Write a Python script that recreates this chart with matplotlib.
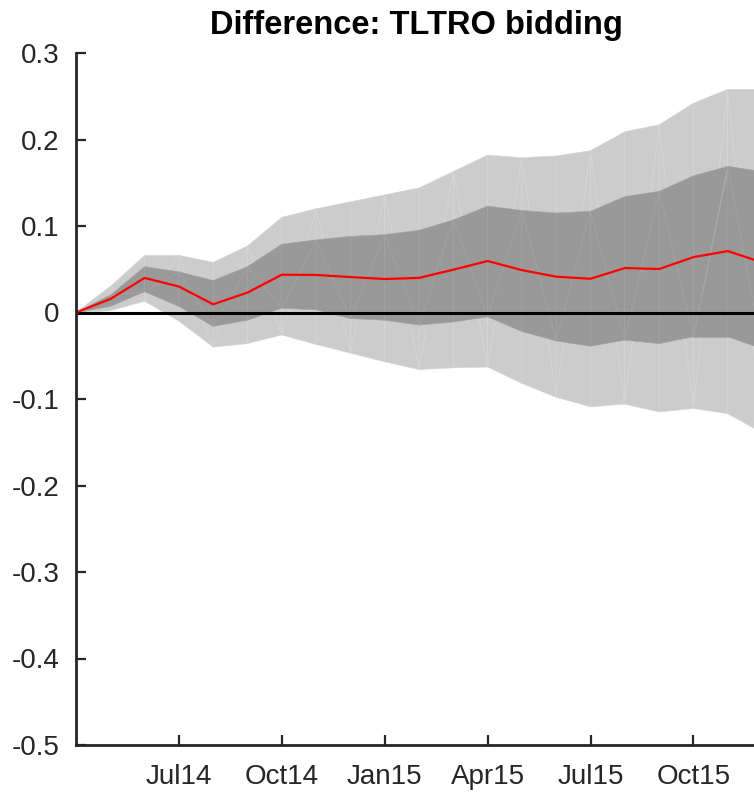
import matplotlib
matplotlib.use("Agg")
import matplotlib.pyplot as plt
from matplotlib.patches import Polygon
import numpy as np

plt.rcParams['font.family'] = ['Liberation Sans', 'DejaVu Sans']

# Monthly observations, Apr14 .. Dec15
months = ["Apr14", "May14", "Jun14", "Jul14", "Aug14", "Sep14", "Oct14",
          "Nov14", "Dec14", "Jan15", "Feb15", "Mar15", "Apr15", "May15",
          "Jun15", "Jul15", "Aug15", "Sep15", "Oct15", "Nov15", "Dec15"]

median = [0.0, 0.0156, 0.040, 0.030, 0.0095, 0.023, 0.0437, 0.0434, 0.041,
          0.0387, 0.040, 0.0495, 0.0595, 0.049, 0.0414, 0.039, 0.0514,
          0.0503, 0.064, 0.071, 0.058]

outer_hi = [0.0, 0.030, 0.066, 0.066, 0.058, 0.077, 0.110, 0.120, 0.128,
            0.136, 0.144, 0.163, 0.182, 0.179, 0.181, 0.187, 0.209, 0.217,
            0.242, 0.258, 0.258]
inner_hi = [0.0, 0.020, 0.053, 0.047, 0.037, 0.053, 0.079, 0.084, 0.088,
            0.090, 0.095, 0.107, 0.123, 0.118, 0.115, 0.117, 0.134, 0.140,
            0.158, 0.169, 0.163]
inner_lo = [0.0, 0.007, 0.024, 0.007, -0.016, -0.009, 0.005, 0.003, -0.007,
            -0.009, -0.0145, -0.011, -0.005, -0.022, -0.033, -0.039, -0.032,
            -0.036, -0.028, -0.028, -0.042]
outer_lo = [0.0, 0.002, 0.013, -0.010, -0.040, -0.036, -0.026, -0.037,
            -0.047, -0.057, -0.066, -0.064, -0.063, -0.082, -0.098, -0.109,
            -0.106, -0.115, -0.111, -0.117, -0.139]

tick_months = ["Jul14", "Oct14", "Jan15", "Apr15", "Jul15", "Oct15"]
y_ticks = [0.3, 0.2, 0.1, 0, -0.1, -0.2, -0.3, -0.4, -0.5]

x = np.arange(len(months))

W, H = 754, 795
fig = plt.figure(figsize=(W / 100, H / 100), dpi=100)
ax = fig.add_axes([76 / W, 1 - 745 / H, (757 - 76) / W, (745 - 53) / H])


def band(ax, lo, hi, face, edge, z):
    """Fill a band as a triangle strip with faint seams, like a patch render."""
    lo = np.asarray(lo)
    hi = np.asarray(hi)
    for i in range(len(x) - 1):
        a, b = x[i], x[i + 1]
        if i % 2 == 0:
            tris = [[(a, hi[i]), (a, lo[i]), (b, hi[i + 1])],
                    [(a, lo[i]), (b, lo[i + 1]), (b, hi[i + 1])]]
        else:
            tris = [[(a, hi[i]), (a, lo[i]), (b, lo[i + 1])],
                    [(a, hi[i]), (b, lo[i + 1]), (b, hi[i + 1])]]
        for t in tris:
            ax.add_patch(Polygon(t, closed=True, facecolor=face,
                                 edgecolor=edge, linewidth=0.4, zorder=z))


band(ax, outer_lo, outer_hi, "#cccccc", "#d6d6d6", 1)
band(ax, inner_lo, inner_hi, "#999999", "#a3a3a3", 2)

ax.axhline(0, color="black", linewidth=2.2, zorder=3)
ax.plot(x, median, color="#ff0000", linewidth=1.6, zorder=4)

ax.set_xlim(0, (757 - 76) / 34.3)
ax.set_ylim(-0.5, 0.3)
ax.set_yticks(y_ticks)
ax.set_yticklabels([f"{v:g}" for v in y_ticks])
ax.set_xticks([months.index(m) for m in tick_months])
ax.set_xticklabels(tick_months)

axis_col = "#262626"
for s in ["top", "right"]:
    ax.spines[s].set_visible(False)
for s in ["left", "bottom"]:
    ax.spines[s].set_linewidth(2.0)
    ax.spines[s].set_color(axis_col)
    ax.spines[s].set_zorder(5)

ax.tick_params(axis="both", direction="in", length=7, width=1.6,
               labelsize=20, colors=axis_col)
ax.tick_params(axis="y", pad=12)
ax.tick_params(axis="x", pad=14)

ax.set_title("Difference: TLTRO bidding", fontsize=23.5, fontweight="bold",
             pad=14, color="black")

fig.savefig("out.png", dpi=100)
